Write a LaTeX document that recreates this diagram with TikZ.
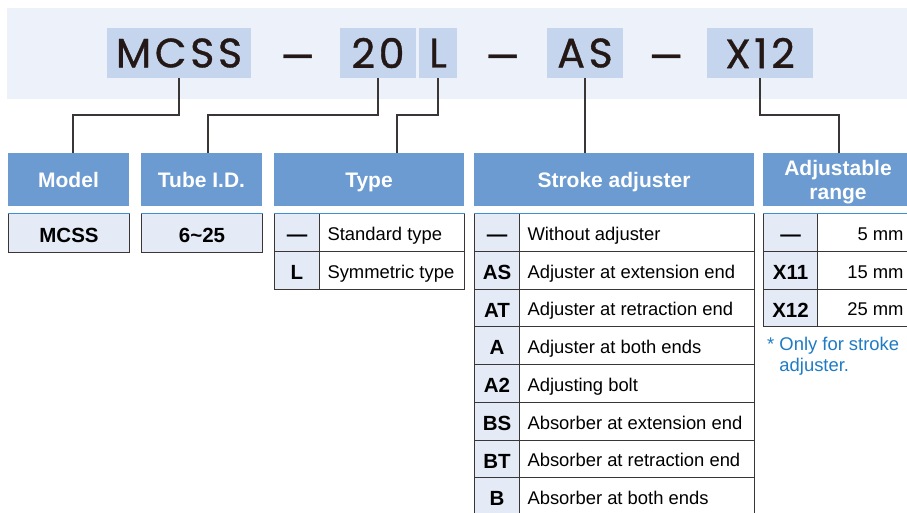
\documentclass[tikz,border=0pt]{standalone}
\usepackage{fontspec}
\usepackage{graphicx}
\setmainfont{Liberation Sans}
\newfontfamily\codefont{Poppins}[LetterSpace=9, FakeBold=0.9]
\newfontfamily\dashfont{Poppins}[FakeBold=0.9]
\definecolor{band}{HTML}{EDF1FA}
\definecolor{codebg}{HTML}{C6D5EE}
\definecolor{head}{HTML}{6B9BD1}
\definecolor{cellfill}{HTML}{E4EAF6}
\definecolor{linec}{HTML}{3A3636}
\definecolor{topline}{HTML}{3D8FD6}
\definecolor{notec}{HTML}{1E7BC4}
\definecolor{codetext}{HTML}{231815}
\tikzset{
  codebox/.style={fill=codebg, inner sep=0, minimum height=50pt, text=codetext,
    font=\codefont\fontsize{41}{41}\selectfont},
  dashtext/.style={inner sep=0, text=codetext, font=\dashfont\fontsize{41}{41}\selectfont},
  headfill/.style={fill=head, inner sep=0, minimum height=53pt},
  headbox/.style={headfill, text=white, align=center,
    text height=15pt, text depth=0pt, font=\bfseries\fontsize{21}{22}\selectfont},
  headtext/.style={inner sep=0, text=white, align=center, font=\bfseries\fontsize{21}{24}\selectfont},
  cellbase/.style={draw=linec, line width=1pt, inner sep=0, minimum height=37.75pt, anchor=north west},
  codecell/.style={cellbase, fill=cellfill, text height=18.6pt, text depth=0pt,
    font=\bfseries\fontsize{20.5}{22}\selectfont},
  desccell/.style={cellbase, fill=white, inner xsep=8pt, text height=16pt, text depth=0pt,
    font=\fontsize{18.4}{22}\selectfont},
  valcell/.style={cellbase, fill=white, inner xsep=10pt, text height=16pt, text depth=0pt,
    font=\fontsize{18.4}{22}\selectfont},
  conn/.style={draw=linec, line width=1.1pt},
  topedge/.style={draw=topline, line width=1pt}
}
\begin{document}
\begin{tikzpicture}[x=1pt,y=-1pt]
\clip (0,0) rectangle (907,512);
\fill[white] (0,0) rectangle (907,512);
% band
\fill[band] (7,8) rectangle (915,99);
% code boxes
\node[codebox, minimum width=144pt] (mcss) at (179,53) {MCSS};
\node[dashtext] (d1) at (297.5,63) {\scalebox{1.3}[1]{–}};
\node[codebox, minimum width=76pt] (c20) at (378,53) {20};
\node[codebox, minimum width=38pt] (cl) at (438,53) {L};
\node[dashtext] (d2) at (502.5,63) {\scalebox{1.3}[1]{–}};
\node[codebox, minimum width=76pt] (cas) at (585,53) {AS};
\node[dashtext] (d3) at (666,63) {\scalebox{1.3}[1]{–}};
\node[codebox, minimum width=106pt] (cx) at (760,53) {X12};
% headers
\node[headbox, minimum width=121pt] (hmodel) at (68.5,179.5) {Model};
\node[headbox, minimum width=121pt] (htube) at (201.5,179.5) {Tube I.D.};
\node[headbox, minimum width=190pt] (htype) at (369,179.5) {Type};
\node[headbox, minimum width=280pt] (hstroke) at (614,179.5) {Stroke adjuster};
\node[headfill, minimum width=150pt] (hadj) at (838,179.5) {};
\node[headtext] (hadjt) at ([yshift=-3pt]hadj.center) {Adjustable\\range};
% connectors
\coordinate (j1) at (73,115);
\coordinate (j2) at (208,115);
\coordinate (j3) at (397,115);
\coordinate (j5) at (839,115);
\draw[conn] (mcss.south) |- (j1) -- (j1 |- hmodel.north);
\draw[conn] (c20.south) |- (j2) -- (j2 |- htube.north);
\draw[conn] (cl.south) |- (j3) -- (j3 |- htype.north);
\draw[conn] (cas.south) -- (cas.south |- hstroke.north);
\draw[conn] (cx.south) |- (j5) -- (j5 |- hadj.north);
% model & tube tables
\node[codecell, minimum width=121pt, minimum height=38.5pt] (tmodel) at (8,213) {MCSS};
\node[codecell, minimum width=121pt, minimum height=38.5pt] (ttube) at (141,213) {6\char`~25};
\draw[topedge] (tmodel.north west) -- (tmodel.north east);
\draw[topedge] (ttube.north west) -- (ttube.north east);
% type table
\foreach \c/\d [count=\i from 0] in {—/Standard type, L/Symmetric type} {
  \node[codecell, minimum width=45pt] (tc\i) at (274,{213+\i*37.75}) {\c};
  \node[desccell] (td\i) at (319,{213+\i*37.75}) {\makebox[129pt][l]{\d}};
}
\draw[topedge] (tc0.north west) -- (td0.north east);
% stroke table
\foreach \c/\d [count=\i from 0] in {—/Without adjuster, AS/Adjuster at extension end,
  AT/Adjuster at retraction end, A/Adjuster at both ends, A2/Adjusting bolt,
  BS/Absorber at extension end, BT/Absorber at retraction end, B/Absorber at both ends} {
  \node[codecell, minimum width=45pt] (sc\i) at (474,{213+\i*37.75}) {\c};
  \node[desccell] (sd\i) at (519,{213+\i*37.75}) {\makebox[219pt][l]{\d}};
}
\draw[topedge] (sc0.north west) -- (sd0.north east);
% adjustable range table
\foreach \c/\d [count=\i from 0] in {—/5 mm, X11/15 mm, X12/25 mm} {
  \node[codecell, minimum width=54pt] (ac\i) at (763,{213+\i*37.75}) {\c};
  \node[valcell] (av\i) at (817,{213+\i*37.75}) {\makebox[76pt][r]{\d}};
}
\draw[topedge] (ac0.north west) -- (av0.north east);
% note
\node[anchor=north west, inner sep=0, align=left, text=notec,
  font=\fontsize{18.4}{21}\selectfont] (note) at (767,337)
  {* Only for stroke\\\hphantom{* }adjuster.};
\end{tikzpicture}
\end{document}
